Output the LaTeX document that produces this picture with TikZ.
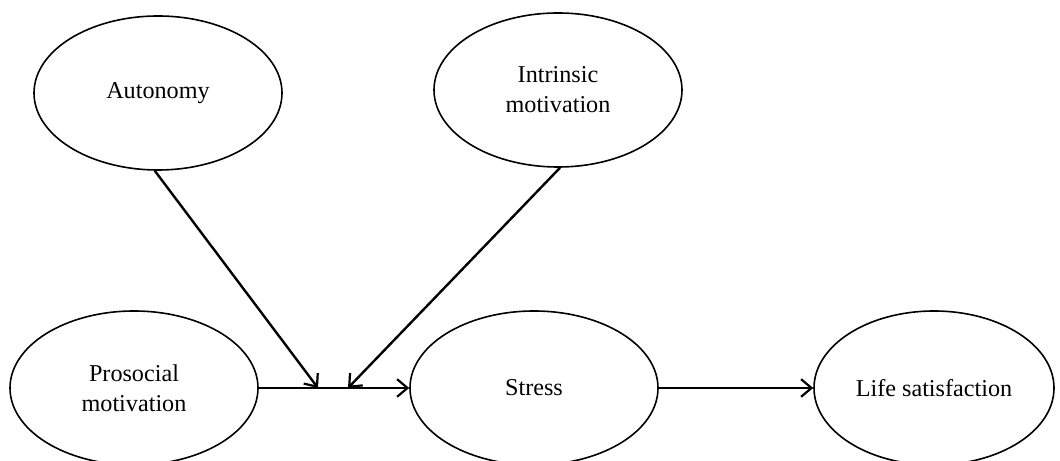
\documentclass[tikz,border=0pt]{standalone}
\usepackage{fontspec}
\setmainfont{Liberation Serif}
\usetikzlibrary{shapes.geometric,arrows.meta}

\tikzset{
  factor/.style={draw, ellipse, line width=0.4mm, minimum width=6.2cm, minimum height=3.85cm, inner sep=0pt, align=center, font=\fontsize{17.2}{21.5}\selectfont},
  path/.style={line width=0.6mm, -{Straight Barb[length=2.6mm, width=4.4mm, line width=0.55mm]}}
}

\begin{document}
\begin{tikzpicture}
\useasboundingbox (0, 0) rectangle (26.5, 11.525);

\node[factor] (autonomy) at (3.95, 9.2) {Autonomy};
\node[factor] (intrinsic) at (13.95, 9.275) {Intrinsic\\motivation};

\node[factor] (prosocial) at (3.35, 1.825) {Prosocial\\motivation};
\node[factor] (stress) at (13.35, 1.825) {Stress};
\node[factor, minimum width=6cm] (life) at (23.35, 1.825) {Life satisfaction};

\coordinate (tipA) at (7.95, 1.825);
\coordinate (tipB) at (8.7, 1.825);

\draw[path] (prosocial) -- (stress);
\draw[path] (stress) -- (life);
\draw[path] ([xshift=-0.08cm]autonomy.south) -- (tipA);
\draw[path] ([xshift=0.05cm]intrinsic.south) -- (tipB);
\end{tikzpicture}
\end{document}
